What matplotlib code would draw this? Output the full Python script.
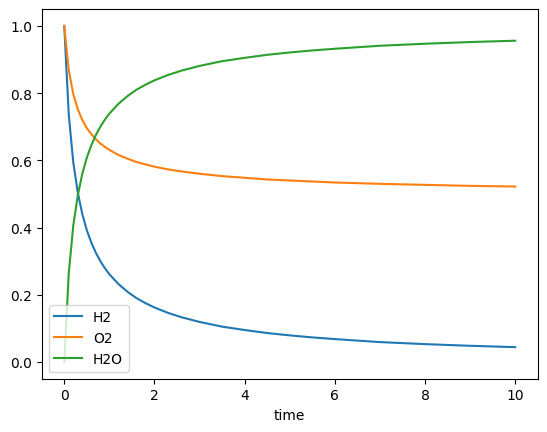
import matplotlib
matplotlib.use("Agg")
import matplotlib.pyplot as plt

# values
time = [0, 0.1, 0.2, 0.3, 0.4, 0.5, 0.6, 0.7, 0.8, 0.9, 1.0, 1.2, 1.4, 1.6, 1.8,
        2.0, 2.3, 2.6, 3.0, 3.5, 4.0, 4.5, 5, 5.5, 6, 7, 8, 9, 10]
h2 = [1.000, 0.735, 0.594, 0.504, 0.440, 0.392, 0.355, 0.325, 0.300, 0.279,
      0.261, 0.232, 0.209, 0.190, 0.175, 0.162, 0.146, 0.133, 0.119, 0.105,
      0.095, 0.086, 0.079, 0.073, 0.068, 0.059, 0.053, 0.048, 0.044]
o2 = [1.000, 0.868, 0.797, 0.752, 0.720, 0.696, 0.678, 0.663, 0.650, 0.640,
      0.631, 0.616, 0.605, 0.595, 0.588, 0.581, 0.573, 0.567, 0.560, 0.553,
      0.548, 0.543, 0.540, 0.537, 0.534, 0.530, 0.527, 0.524, 0.522]
h2o = [0.000, 0.265, 0.406, 0.496, 0.560, 0.608, 0.645, 0.675, 0.700, 0.721,
       0.739, 0.768, 0.791, 0.810, 0.825, 0.838, 0.854, 0.867, 0.881, 0.895,
       0.905, 0.914, 0.921, 0.927, 0.932, 0.941, 0.947, 0.952, 0.956]

fig, ax = plt.subplots(figsize=(6.4, 4.8), dpi=100)
ax.plot(time, h2, label='H2')
ax.plot(time, o2, label='O2')
ax.plot(time, h2o, label='H2O')
ax.set_xlabel('time')
ax.legend(loc='lower left')
fig.savefig('out.png', bbox_inches='tight')
